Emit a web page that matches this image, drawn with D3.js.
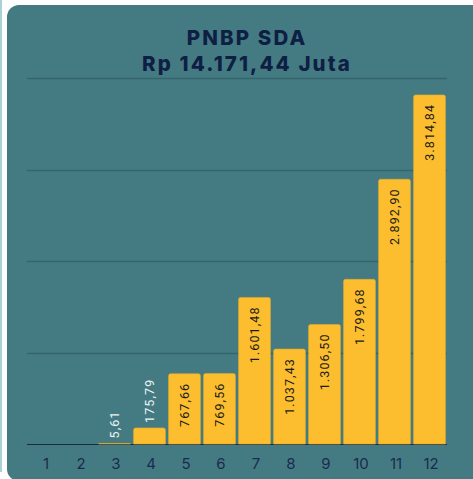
<!DOCTYPE html>
<html>
<head>
<meta charset="utf-8">
<script src="https://cdn.jsdelivr.net/npm/d3@7"></script>
<style>
  html, body { margin: 0; padding: 0; background: #fff; }
  svg { display: block; }
</style>
</head>
<body>
<svg id="chart" width="473" height="479"></svg>
<script>
// data
var bulan = ["1", "2", "3", "4", "5", "6", "7", "8", "9", "10", "11", "12"];
var nilai = [0, 0, 5.61, 175.79, 767.66, 769.56, 1601.48, 1037.43, 1306.50, 1799.68, 2892.90, 3814.84];
var gridTicks = [1000, 2000, 3000, 4000];
var judul = ["PNBP SDA", "Rp 14.171,44 Juta"];

var idr = d3.formatLocale({ decimal: ",", thousands: ".", grouping: [3], currency: ["Rp ", ""] });
var fmt = idr.format(",.2f");

var svg = d3.select("#chart"),
    width = +svg.attr("width"),
    height = +svg.attr("height");

// thin strip on far left + panel
svg.append("rect").attr("x", 0).attr("y", 0).attr("width", 2).attr("height", 472).attr("fill", "#a8d2d6");
svg.append("rect")
    .attr("x", 7).attr("y", 5)
    .attr("width", 490).attr("height", 476)
    .attr("rx", 12)
    .attr("fill", "#447b83");

var margin = { left: 27, right: 26, top: 78, bottom: 35 };

var x = d3.scaleBand()
    .domain(bulan)
    .range([margin.left, width - margin.right])
    .paddingInner(0.09)
    .paddingOuter(0.045);

var y = d3.scaleLinear()
    .domain([0, 4000])
    .range([height - margin.bottom, margin.top]);

// title
svg.append("g")
    .attr("font-family", "Inter, 'Open Sans', sans-serif")
    .attr("font-weight", 800)
    .attr("font-size", 20.5)
    .attr("letter-spacing", 2.1)
    .attr("fill", "#0f1f44")
    .attr("text-anchor", "middle")
  .selectAll("text")
  .data(judul)
  .enter().append("text")
    .attr("x", 247)
    .attr("y", function(d, i) { return 45 + i * 26; })
    .text(function(d) { return d; });

// grid
svg.append("g")
  .selectAll("line")
  .data(gridTicks)
  .enter().append("line")
    .attr("x1", margin.left)
    .attr("x2", width - margin.right)
    .attr("y1", function(d) { return Math.round(y(d)) + 0.5; })
    .attr("y2", function(d) { return Math.round(y(d)) + 0.5; })
    .attr("stroke", "#34656c")
    .attr("stroke-width", 1.5);

// baseline
svg.append("line")
    .attr("x1", margin.left)
    .attr("x2", width - margin.right)
    .attr("y1", y(0) + 0.5)
    .attr("y2", y(0) + 0.5)
    .attr("stroke", "#1d2b3a")
    .attr("stroke-width", 1);

// bars
var data = bulan.map(function(b, i) { return { bulan: b, nilai: nilai[i] }; });

svg.append("g")
  .selectAll("path")
  .data(data.filter(function(d) { return d.nilai > 0; }))
  .enter().append("path")
    .attr("d", function(d) {
      var x0 = x(d.bulan), w = x.bandwidth(), y0 = y(d.nilai), h = y(0) - y0;
      var r = Math.min(2, h);
      return "M" + x0 + "," + y(0) +
             "V" + (y0 + r) +
             "Q" + x0 + "," + y0 + " " + (x0 + r) + "," + y0 +
             "H" + (x0 + w - r) +
             "Q" + (x0 + w) + "," + y0 + " " + (x0 + w) + "," + (y0 + r) +
             "V" + y(0) + "Z";
    })
    .attr("fill", "#fcbe2e")
    .attr("stroke", "#e3ab2c")
    .attr("stroke-width", 0.6);

// value labels
var labels = svg.append("g")
    .attr("font-family", "Roboto, sans-serif")
    .attr("font-size", 12.5)
    .attr("letter-spacing", 1.1)
  .selectAll("text")
  .data(data.filter(function(d) { return d.nilai > 0; }))
  .enter().append("text")
    .text(function(d) { return fmt(d.nilai); });

labels.each(function(d) {
  var t = d3.select(this);
  var len = this.getComputedTextLength();
  var cx = x(d.bulan) + x.bandwidth() / 2;
  var top = y(d.nilai);
  var inside = (y(0) - top) > len + 14;
  if (inside) {
    t.attr("text-anchor", "end")
     .attr("fill", "#1a1a1a")
     .attr("transform", "translate(" + (cx + 4.5) + "," + (top + 9) + ") rotate(-90)");
  } else {
    t.attr("text-anchor", "start")
     .attr("fill", "#eef3f3")
     .attr("transform", "translate(" + (cx + 4.5) + "," + (top - 5) + ") rotate(-90)");
  }
});

// x axis labels
svg.append("g")
    .attr("font-family", "Inter, sans-serif")
    .attr("font-size", 15)
    .attr("fill", "#1b2b4b")
    .attr("text-anchor", "middle")
  .selectAll("text")
  .data(bulan)
  .enter().append("text")
    .attr("x", function(d) { return x(d) + x.bandwidth() / 2 + 1.5; })
    .attr("y", 469)
    .text(function(d) { return d; });
</script>
</body>
</html>
